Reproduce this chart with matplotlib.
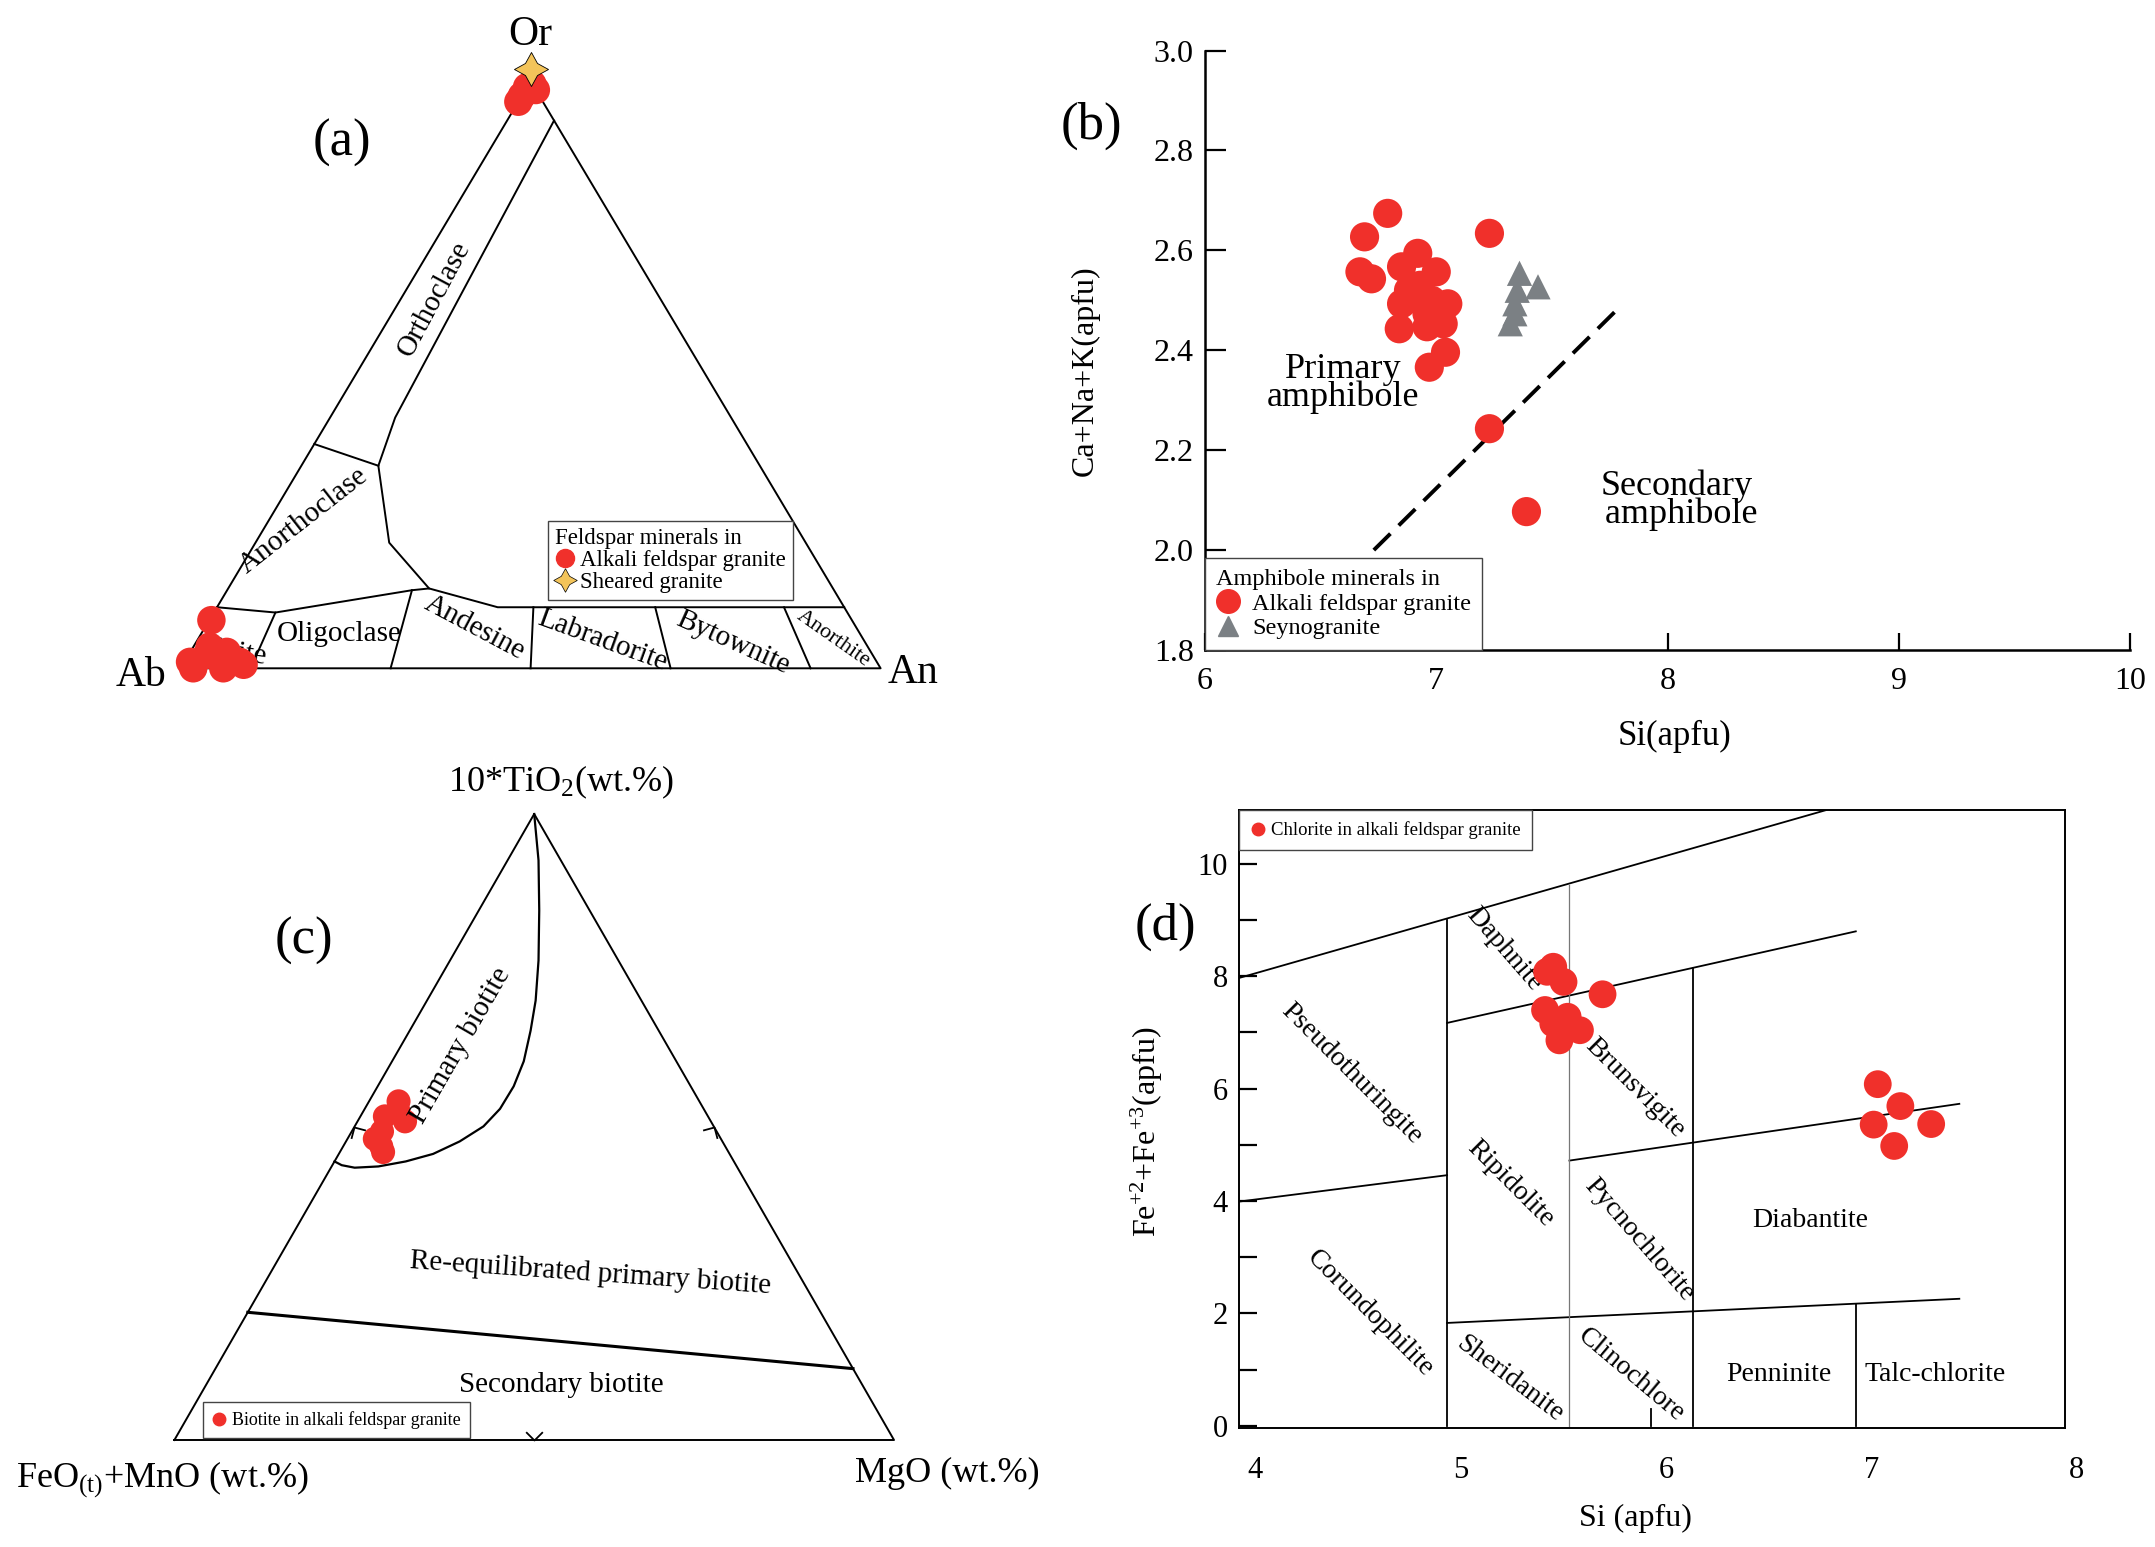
import numpy as np
import matplotlib
matplotlib.use('Agg')
import matplotlib.pyplot as plt
from matplotlib.lines import Line2D
from matplotlib.markers import MarkerStyle
from matplotlib.path import Path
from matplotlib.transforms import Affine2D

plt.rcParams['font.family'] = ['Liberation Serif', 'DejaVu Serif']
plt.rcParams['mathtext.fontset'] = 'custom'
plt.rcParams['mathtext.rm'] = 'Liberation Serif'
plt.rcParams['mathtext.it'] = 'Liberation Serif:italic'

RED = '#f0302b'
GREY = '#7b8084'
STAR = '#f3c45a'
W, H = 2155, 1547

# ---------------- (a) feldspar Ab-An-Or (%) ----------------
fsp_afg_ab = [3.5, 2.5, 0.0, 0.0, 1.0, 91.5, 98.1, 95.1, 92.0, 91.0, 94.0, 98.2, 93.9, 90.7]
fsp_afg_an = [0.0, 0.0, 0.5, 1.5, 0.0, 0.3, 0.8, 2.6, 5.2, 7.9, 2.3, 1.8, 6.1, 8.7]
fsp_afg_or = [96.5, 97.5, 99.5, 98.5, 99.0, 8.2, 1.1, 2.3, 2.8, 1.1, 3.7, 0.0, 0.0, 0.6]
fsp_sheared = (0.0, 0.0, 100.0)

# field boundaries as (Ab, An, Or)
fsp_bounds = [
    [(0.0, 6.7, 93.3), (48.0, 9.3, 42.7), (54.5, 11.0, 34.5), (59.5, 19.1, 21.4), (57.7, 28.7, 13.6)],
    [(61.8, 0.0, 38.2), (54.5, 11.0, 34.5)],
    [(89.6, 0.0, 10.4), (81.7, 8.8, 9.5), (60.3, 26.4, 13.3), (57.7, 28.7, 13.6),
     (49.5, 40.1, 10.4), (0.0, 89.6, 10.4)],
    [(81.7, 8.8, 9.5), (90.0, 10.0, 0.0)],
    [(60.3, 26.4, 13.3), (70.0, 30.0, 0.0)],
    [(44.4, 45.2, 10.4), (50.0, 50.0, 0.0)],
    [(27.0, 62.6, 10.4), (30.0, 70.0, 0.0)],
    [(8.6, 81.0, 10.4), (10.0, 90.0, 0.0)],
]
fsp_fields = ['Orthoclase', 'Anorthoclase', 'Albite', 'Oligoclase', 'Andesine',
              'Labradorite', 'Bytownite', 'Anorthite']

# ---------------- (b) amphibole ----------------
amp_afg_si = [6.79, 6.69, 7.23, 6.67, 6.72, 6.92, 6.85, 7.00, 6.90, 7.05, 6.85, 6.96,
              6.84, 6.96, 7.03, 7.04, 6.97, 7.23, 7.39, 6.93, 6.88, 6.98]
amp_afg_cnk = [2.674, 2.627, 2.634, 2.557, 2.543, 2.594, 2.567, 2.557, 2.513, 2.493, 2.493,
               2.473, 2.443, 2.447, 2.453, 2.396, 2.366, 2.243, 2.077, 2.530, 2.520, 2.500]
amp_syn_si = [7.36, 7.44, 7.35, 7.34, 7.34, 7.32]
amp_syn_cnk = [2.554, 2.527, 2.520, 2.493, 2.473, 2.453]
amp_divider_si = [6.73, 7.79]
amp_divider_cnk = [2.0, 2.485]

# ---------------- (c) biotite FeO-TiO2-MgO ----------------
bt_feo = [41.8, 44.9, 42.5, 46.5, 47.8, 42.6, 48.1, 48.0]
bt_tio2 = [54.1, 51.7, 50.9, 49.3, 46.9, 52.5, 48.1, 46.0]
bt_mgo = [4.1, 3.4, 6.6, 4.2, 5.3, 4.9, 3.8, 6.0]
# primary curve and secondary line as (FeO, TiO2, MgO)
bt_primary = [(0.0, 100.0, 0.0), (3.1, 92.6, 4.3), (7.0, 84.6, 8.4), (11.1, 76.6, 12.3),
              (14.7, 70.2, 15.1), (17.8, 65.4, 16.8), (21.2, 60.5, 18.3), (24.6, 56.5, 18.9),
              (28.3, 52.9, 18.8), (32.0, 50.1, 17.9), (36.5, 47.7, 15.8), (41.2, 45.7, 13.1),
              (45.6, 44.5, 9.9), (49.8, 43.7, 6.5), (53.2, 43.5, 3.3), (54.8, 43.9, 1.3),
              (55.5, 44.5, 0.0)]
bt_secondary = [(79.6, 20.4, 0.0), (0.0, 11.4, 88.6)]

# ---------------- (d) chlorite ----------------
chl_si = [5.42, 5.45, 5.50, 5.69, 5.41, 5.45, 5.52, 5.58, 5.48, 7.03, 7.14, 7.01, 7.29, 7.11]
chl_fe = [8.08, 8.17, 7.90, 7.68, 7.40, 7.16, 7.28, 7.04, 6.86, 6.08, 5.69, 5.36, 5.37, 4.98]
chl_lines = [
    ([3.92, 6.78], [7.97, 10.96]),
    ([4.933, 6.923], [7.17, 8.80]),
    ([3.92, 4.933], [3.99, 4.46]),
    ([5.529, 7.427], [4.72, 5.73]),
    ([4.933, 7.427], [1.83, 2.26]),
    ([4.933, 4.933], [0.0, 9.0]),
    ([6.128, 6.128], [0.0, 8.14]),
    ([6.923, 6.923], [0.0, 2.16]),
    ([5.925, 5.925], [0.0, 0.30]),
]
chl_grey_line = ([5.529, 5.529], [0.0, 9.62])


def tern_xy(left, right, top):
    left, right, top = (np.asarray(v, float) for v in (left, right, top))
    s = left + right + top
    return (right + 0.5 * top) / s, top / s


def px_axes(x0, y0, x1, y1):
    return fig.add_axes([x0 / W, 1 - y1 / H, (x1 - x0) / W, (y1 - y0) / H])


def boxed_legend(ax, *args, **kw):
    leg = ax.legend(*args, fancybox=False, framealpha=1, edgecolor='#444444',
                    borderaxespad=0, **kw)
    leg.get_frame().set_linewidth(1.0)
    return leg


fig = plt.figure(figsize=(W / 100, H / 100), dpi=100)

# =============== (a) ===============
ax = px_axes(180.6, 81.2, 880.6, 668.3)
ax.set_xlim(0, 1)
ax.set_ylim(0, 1)
ax.axis('off')
tx, ty = tern_xy([100, 0, 0, 100], [0, 100, 0, 0], [0, 0, 100, 0])
ax.plot(tx, ty, color='black', lw=1.4, clip_on=False)
for seg in fsp_bounds:
    a, b, c = zip(*seg)
    x, y = tern_xy(a, b, c)
    ax.plot(x, y, color='black', lw=1.4, clip_on=False)

field_pos = [(0.362, 0.629, 62, 21), (0.176, 0.252, 38, 21), (0.071, 0.028, -8, 21),
             (0.227, 0.059, 0, 21), (0.4205, 0.07, -28, 21), (0.603, 0.047, -20, 21),
             (0.789, 0.043, -24, 21), (0.932, 0.051, -35, 16)]
for name, (u, v, rot, fs) in zip(fsp_fields, field_pos):
    ax.text(u, v, name, rotation=rot, fontsize=fs, ha='center', va='center',
            rotation_mode='anchor', zorder=1)

x, y = tern_xy(fsp_afg_ab, fsp_afg_an, fsp_afg_or)
ax.scatter(x, y, s=420, color=RED, edgecolors='none', zorder=3, clip_on=False)
star = MarkerStyle((4, 1, 0))
x, y = tern_xy(*[[v] for v in fsp_sheared])
ax.scatter(x, y + 0.02, s=600, marker=star, color=STAR, edgecolors='black',
           linewidths=0.6, zorder=4, clip_on=False)

ax.text(0.4994, 1.079, 'Or', fontsize=30, ha='center', va='center')
ax.text(-0.056, -0.013, 'Ab', fontsize=30, ha='center', va='center')
ax.text(1.047, -0.008, 'An', fontsize=30, ha='center', va='center')
ax.text(0.231, 0.895, '(a)', fontsize=38, ha='center', va='center')

hdl = [Line2D([], [], ls='none', marker='o', color=RED, ms=13),
       Line2D([], [], ls='none', marker=star, mfc=STAR, mec='black', mew=0.5, ms=17)]
boxed_legend(ax, hdl, ['Alkali feldspar granite', 'Sheared granite'],
             title='Feldspar minerals in', loc='lower left',
             bbox_to_anchor=(0.525, 0.116), fontsize=16.5, title_fontsize=16.5,
             handlelength=0.9, handletextpad=0.2, borderpad=0.3,
             labelspacing=0.05, alignment='left')

# =============== (b) ===============
ax = px_axes(1205, 50.5, 2130, 650)
ax.set_xlim(6, 10)
ax.set_ylim(1.8, 3.0)
ax.spines[['top', 'right']].set_visible(False)
for sp in ('left', 'bottom'):
    ax.spines[sp].set_linewidth(1.8)
ax.set_xticks([6, 7, 8, 9, 10])
ax.set_yticks(np.arange(1.8, 3.01, 0.2))
ax.yaxis.set_major_formatter(matplotlib.ticker.FormatStrFormatter('%.1f'))
ax.tick_params(axis='y', direction='in', length=15, width=1.6, labelsize=23, pad=8)
ax.tick_params(axis='x', direction='in', length=12, width=1.6, labelsize=23, pad=12)
ax.plot(amp_divider_si, amp_divider_cnk, color='black', lw=2.8, dashes=(6, 3), zorder=2)
ax.scatter(amp_afg_si, amp_afg_cnk, s=441, color=RED, edgecolors='none', zorder=3)
ax.scatter(amp_syn_si, amp_syn_cnk, s=330, marker='^', color=GREY, edgecolors='none', zorder=3)
ax.text(6.596, 2.333, 'Primary\namphibole', fontsize=26, ha='center', va='center',
        linespacing=0.8)
ax.text(8.04, 2.10, 'Secondary\n amphibole', fontsize=26, ha='center', va='center',
        linespacing=0.8)
ax.text(5.51, 2.85, '(b)', fontsize=38, ha='center', va='center')
ax.set_xlabel('Si(apfu)', fontsize=25, va='center')
ax.xaxis.set_label_coords(0.508, -0.145)
ax.set_ylabel('Ca+Na+K(apfu)', fontsize=23, va='center')
ax.yaxis.set_label_coords(-0.130, 0.466)
hdl = [Line2D([], [], ls='none', marker='o', color=RED, ms=17),
       Line2D([], [], ls='none', marker='^', color=GREY, ms=15)]
boxed_legend(ax, hdl, ['Alkali feldspar granite', 'Seynogranite'],
             title='Amphibole minerals in', loc='lower left', bbox_to_anchor=(0, 0),
             fontsize=17.5, title_fontsize=17.5, handlelength=1.0, handletextpad=0.5,
             borderpad=0.45, labelspacing=0.1, alignment='left')

# =============== (c) ===============
ax = px_axes(174.4, 814, 894, 1440)
ax.set_xlim(0, 1)
ax.set_ylim(0, 1)
ax.axis('off')
tx, ty = tern_xy([100, 0, 0, 100], [0, 0, 100, 0], [0, 100, 0, 0])
ax.plot(tx, ty, color='black', lw=1.4, clip_on=False)
a, b, c = zip(*bt_primary)
x, y = tern_xy(a, c, b)
ax.plot(x, y, color='black', lw=1.6, clip_on=False)
a, b, c = zip(*bt_secondary)
x, y = tern_xy(a, c, b)
ax.plot(x, y, color='black', lw=2.2, clip_on=False)

vpath = Path([(-1, 1), (0, 0), (1, 1)], [Path.MOVETO, Path.LINETO, Path.LINETO])
for (l, r, t), rot in [((50, 50, 0), 0), ((50, 0, 50), -150), ((0, 50, 50), 150)]:
    x, y = tern_xy([l], [r], [t])
    m = MarkerStyle(vpath, transform=Affine2D().rotate_deg(rot))
    ax.plot(x, y, ls='none', marker=m, ms=12, mfc='none', mec='black', mew=1.3,
            clip_on=False)

x, y = tern_xy(bt_feo, bt_mgo, bt_tio2)
ax.scatter(x, y, s=300, color=RED, edgecolors='none', zorder=3, clip_on=False)
ax.text(0.397, 0.63, 'Primary biotite', rotation=60, fontsize=21, ha='center',
        va='center', rotation_mode='anchor')
ax.text(0.578, 0.265, 'Re-equilibrated primary biotite', rotation=-4, fontsize=21,
        ha='center', va='center', rotation_mode='anchor')
ax.text(0.538, 0.088, 'Secondary biotite', fontsize=21, ha='center', va='center')
ax.text(0.180, 0.798, '(c)', fontsize=38, ha='center', va='center')
ax.text(0.537, 1.051, r'10*TiO$_\mathrm{2}$(wt.%)', fontsize=26, ha='center', va='center')
ax.text(-0.017, -0.064, r'FeO$_\mathrm{(t)}$+MnO (wt.%)', fontsize=26, ha='center',
        va='center')
ax.text(1.074, -0.053, 'MgO (wt.%)', fontsize=26, ha='center', va='center')
hdl = [Line2D([], [], ls='none', marker='o', color=RED, ms=9)]
boxed_legend(ax, hdl, ['Biotite in alkali feldspar granite'], loc='lower left',
             bbox_to_anchor=(0.04, 0.003), fontsize=13, handlelength=0.8,
             handletextpad=0.3, borderpad=0.5)

# =============== (d) ===============
ax = px_axes(1239, 810, 2077, 1428)
ax.set_xlim(3.92, 8.0)
ax.set_ylim(-0.04, 10.96)
ax.spines['right'].set_position(('data', 7.94))
ax.spines['top'].set_bounds(3.92, 7.94)
ax.spines['bottom'].set_bounds(3.92, 7.94)
for sp in ax.spines.values():
    sp.set_linewidth(1.4)
ax.set_xticks([4, 5, 6, 7, 8])
ax.set_yticks([0, 2, 4, 6, 8, 10])
ax.set_yticks([1, 3, 5, 7, 9], minor=True)
ax.tick_params(axis='y', which='both', direction='in', length=13, width=1.6,
               labelsize=22, pad=8)
ax.tick_params(axis='x', length=0, labelsize=22, pad=20)
for xs, ys in chl_lines:
    ax.plot(xs, ys, color='black', lw=1.3, zorder=2)
ax.plot(*chl_grey_line, color='#777777', lw=0.9, zorder=2)

chl_fields = ['Daphnite', 'Pseudothuringite', 'Brunsvigite', 'Ripidolite', 'Pycnochlorite',
              'Diabantite', 'Corundophilite', 'Sheridanite', 'Clinochlore', 'Penninite',
              'Talc-chlorite']
chl_pos = [(5.21, 8.49, -49), (4.47, 6.27, -45), (5.85, 6.01, -45), (5.24, 4.31, -45),
           (5.87, 3.31, -49), (6.70, 3.66, 0), (4.56, 2.0, -45), (5.24, 0.83, -37),
           (5.83, 0.91, -40), (6.55, 0.91, 0), (7.31, 0.91, 0)]
for name, (xx, yy, rot) in zip(chl_fields, chl_pos):
    ax.text(xx, yy, name, rotation=rot, fontsize=20, ha='center', va='center',
            rotation_mode='anchor', zorder=1)
ax.scatter(chl_si, chl_fe, s=400, color=RED, edgecolors='none', zorder=3)
ax.text(3.56, 8.88, '(d)', fontsize=38, ha='center', va='center')
ax.set_xlabel('Si (apfu)', fontsize=23, va='center')
ax.xaxis.set_label_coords(0.473, -0.146)
ax.set_ylabel('Fe$^{+2}$+Fe$^{+3}$(apfu)', fontsize=23, va='center')
ax.yaxis.set_label_coords(-0.110, 0.479)
hdl = [Line2D([], [], ls='none', marker='o', color=RED, ms=9)]
boxed_legend(ax, hdl, ['Chlorite in alkali feldspar granite'], loc='upper left',
             bbox_to_anchor=(0, 1), fontsize=13.5, handlelength=0.8,
             handletextpad=0.3, borderpad=0.6)

fig.savefig('out.png', dpi=100, facecolor='white')
